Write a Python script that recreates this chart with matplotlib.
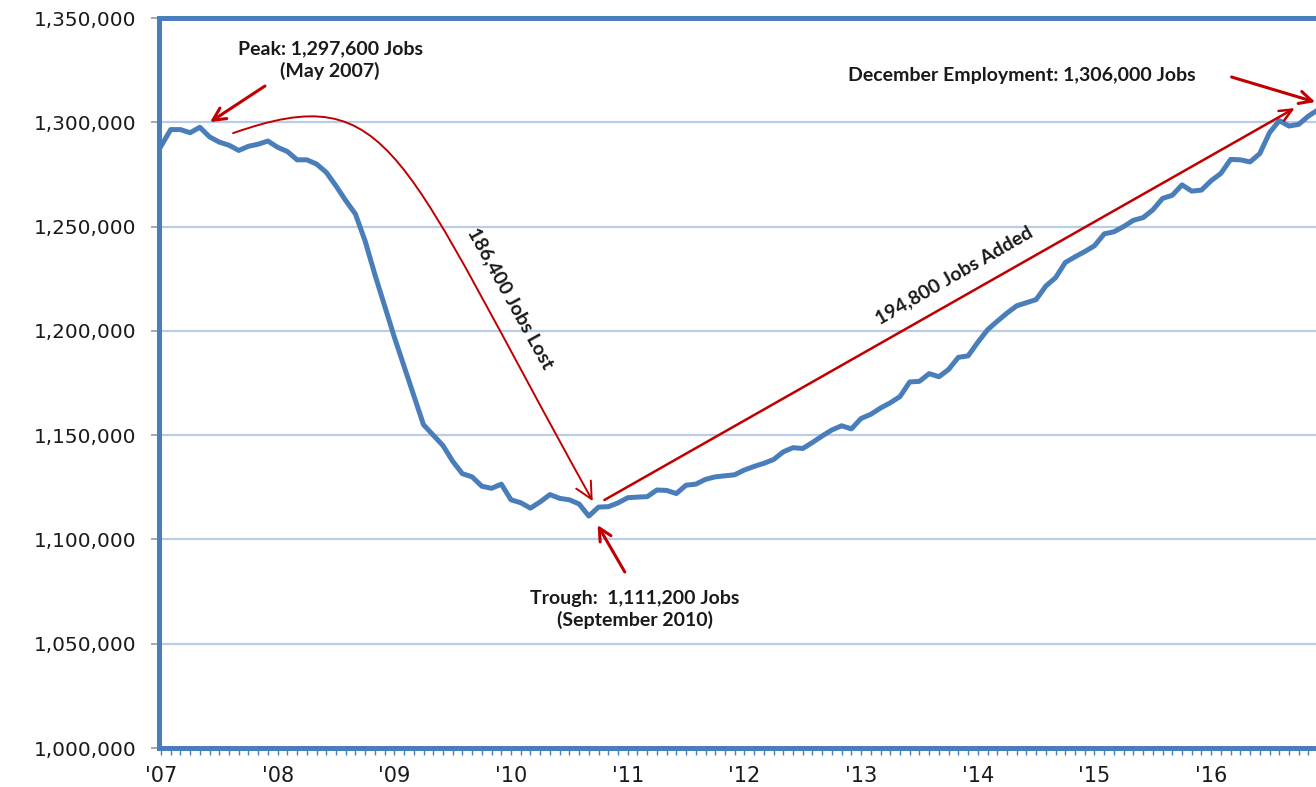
import matplotlib
matplotlib.use("Agg")
import matplotlib.pyplot as plt
from matplotlib.patches import FancyArrowPatch
from matplotlib.path import Path
from matplotlib.ticker import FuncFormatter, MultipleLocator
import numpy as np

# Monthly employment (thousands of jobs), Jan..Dec for each year
jobs_2007 = [1288.5, 1296.5, 1296.5, 1295.0, 1297.6, 1293.0, 1290.5, 1289.0, 1286.5, 1288.5, 1289.5, 1291.0]
jobs_2008 = [1288.0, 1286.0, 1282.0, 1282.0, 1280.0, 1276.0, 1269.5, 1262.5, 1256.0, 1243.0, 1227.0, 1212.0]
jobs_2009 = [1197.0, 1183.0, 1169.0, 1155.0, 1150.0, 1145.0, 1137.5, 1131.5, 1130.0, 1125.5, 1124.5, 1126.5]
jobs_2010 = [1119.0, 1117.6, 1115.0, 1118.0, 1121.5, 1119.7, 1119.0, 1117.0, 1111.2, 1115.5, 1115.7, 1117.5]
jobs_2011 = [1120.0, 1120.3, 1120.5, 1123.7, 1123.5, 1122.0, 1126.0, 1126.5, 1128.8, 1130.0, 1130.5, 1131.0]
jobs_2012 = [1133.3, 1135.0, 1136.5, 1138.3, 1142.0, 1144.0, 1143.6, 1146.5, 1149.6, 1152.5, 1154.5, 1153.0]
jobs_2013 = [1158.0, 1160.0, 1163.0, 1165.5, 1168.5, 1175.5, 1175.8, 1179.5, 1178.0, 1181.5, 1187.3, 1188.0]
jobs_2014 = [1194.5, 1200.5, 1204.6, 1208.5, 1212.0, 1213.5, 1215.0, 1221.5, 1225.5, 1232.8, 1235.5, 1238.0]
jobs_2015 = [1240.8, 1246.5, 1247.5, 1250.0, 1253.0, 1254.3, 1258.0, 1263.5, 1265.0, 1270.0, 1267.0, 1267.5]
jobs_2016 = [1272.0, 1275.5, 1282.2, 1282.0, 1281.0, 1285.0, 1295.0, 1300.8, 1298.2, 1299.0, 1303.0, 1306.0]

year_labels = ["'07", "'08", "'09", "'10", "'11", "'12", "'13", "'14", "'15", "'16"]

jobs = np.array(jobs_2007 + jobs_2008 + jobs_2009 + jobs_2010 + jobs_2011 +
                jobs_2012 + jobs_2013 + jobs_2014 + jobs_2015 + jobs_2016) * 1000
months = np.arange(len(jobs))

BLUE = "#4a7ebb"
RED = "#c00000"
TXT = "#1a1a1a"

fig = plt.figure(figsize=(13.16, 7.87), dpi=100)
ax = fig.add_axes([159 / 1316, 1 - 748 / 787, 1 - 159 / 1316 + 0.002, (748 - 18) / 787])

ax.set_xlim(-0.2, 119.05)
ax.set_ylim(1000000, 1350000)

ax.yaxis.set_major_locator(MultipleLocator(50000))
ax.yaxis.set_major_formatter(FuncFormatter(lambda v, p: f"{int(round(v)):,}"))
ax.grid(axis="y", color="#b9cde5", lw=1.6, zorder=0)
ax.set_axisbelow(True)

ax.set_xticks(np.arange(0, 120, 12))
ax.set_xticklabels(year_labels)
ax.set_xticks(np.arange(0, 120, 1), minor=True)

for s in ["left", "top", "bottom"]:
    ax.spines[s].set_color(BLUE)
    ax.spines[s].set_linewidth(3.6)
ax.spines["right"].set_visible(False)

ax.tick_params(axis="y", length=6, width=1.2, color="#999999", pad=10,
               labelsize=14.4, labelcolor=TXT)
ax.tick_params(axis="x", which="both", length=5, width=1.0, color=BLUE,
               pad=8, labelsize=15, labelcolor=TXT)
for lab in ax.get_xticklabels() + ax.get_yticklabels():
    lab.set_family("DejaVu Sans")

ax.plot(months, jobs, color=BLUE, lw=3.6, solid_joinstyle="round", zorder=3, clip_on=False)

afont = dict(family="Lato", fontweight="bold", fontsize=14, color=TXT)

def k(v):
    return v * 1000

# Peak
ax.text(17.4, k(1329.8), "Peak: 1,297,600 Jobs\n(May 2007)", ha="center", va="center",
        linespacing=1.25, **afont)
ax.annotate("", xy=(5.05, k(1300.1)), xytext=(10.7, k(1317.4)),
            arrowprops=dict(arrowstyle="->,head_length=0.9,head_width=0.45", color=RED, lw=2.2,
                            shrinkA=0, shrinkB=0))

# Curved "jobs lost" arrow
verts = [(7.42, k(1294.8)), (23.9, k(1321.7)), (24.42, k(1285.7)), (44.4, k(1118.4))]
codes = [Path.MOVETO, Path.CURVE4, Path.CURVE4, Path.CURVE4]
curve = FancyArrowPatch(path=Path(verts, codes), arrowstyle="->,head_length=0.6,head_width=0.3",
                        color=RED, lw=1.4, mutation_scale=20, zorder=4)
ax.add_patch(curve)
ax.text(36.0, k(1215.7), "186,400 Jobs Lost", rotation=-61, ha="center", va="center",
        rotation_mode="anchor", **afont)

# Trough
ax.text(48.7, k(1066.6), "Trough:  1,111,200 Jobs\n(September 2010)", ha="center", va="center",
        linespacing=1.25, **afont)
ax.annotate("", xy=(44.9, k(1106.9)), xytext=(47.7, k(1084.4)),
            arrowprops=dict(arrowstyle="->,head_length=0.9,head_width=0.45", color=RED, lw=2.2,
                            shrinkA=0, shrinkB=0))

# Jobs added
ax.annotate("", xy=(116.6, k(1306.8)), xytext=(45.6, k(1118.9)),
            arrowprops=dict(arrowstyle="->,head_length=0.9,head_width=0.4", color=RED, lw=1.8,
                            shrinkA=0, shrinkB=0))
ax.text(81.6, k(1226.7), "194,800 Jobs Added", rotation=30, ha="center", va="center",
        rotation_mode="anchor", **afont)

# December
ax.text(88.5, k(1322.6), "December Employment: 1,306,000 Jobs", ha="center", va="center", **afont)
ax.annotate("", xy=(118.7, k(1309.7)), xytext=(110.1, k(1321.7)),
            arrowprops=dict(arrowstyle="->,head_length=0.9,head_width=0.45", color=RED, lw=2.2,
                            shrinkA=0, shrinkB=0), annotation_clip=False)

fig.savefig("out.png", dpi=100)
